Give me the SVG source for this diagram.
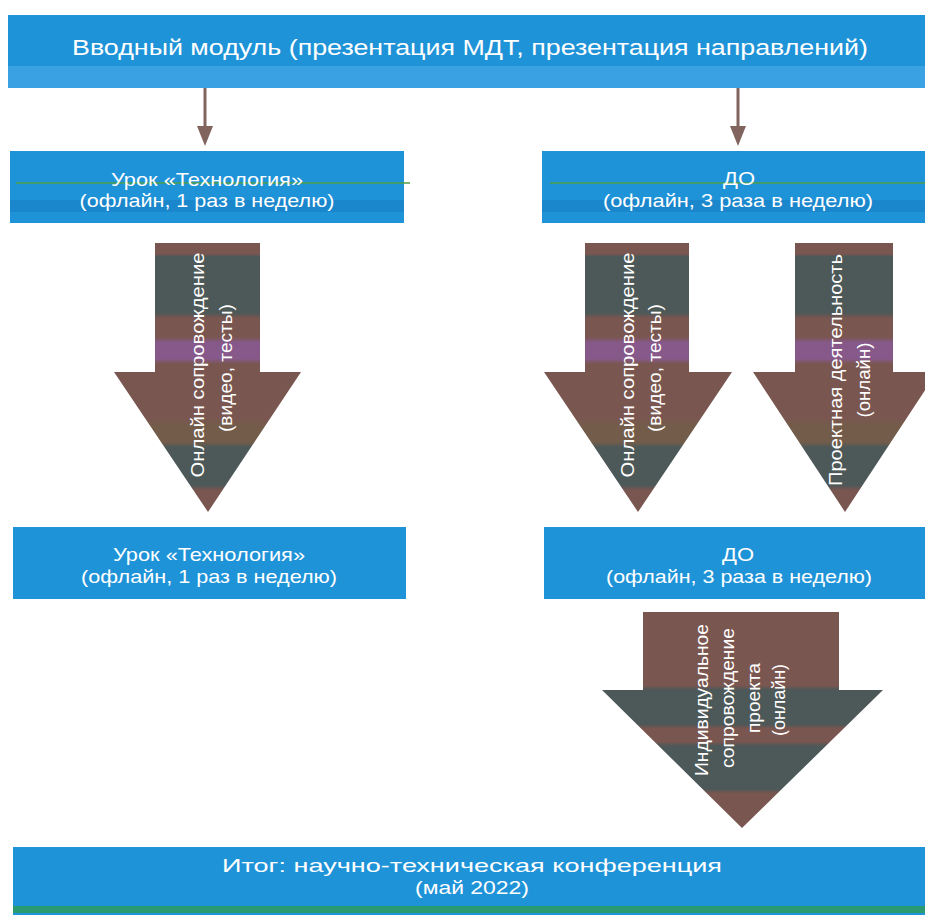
<svg xmlns="http://www.w3.org/2000/svg" width="925" height="915" viewBox="0 0 925 915">
<defs>
<style>
.box{fill:#1f93d8}
.band{fill:#1a86cc}
.lite{fill:#3aa2e2}
.t{font-family:"Liberation Sans",Arial,sans-serif;fill:#ffffff;text-anchor:middle}
.conn{stroke:#82645e;stroke-width:3;fill:none}
.ah{fill:#82645e}
.scan{stroke:#4c9f4a;stroke-width:1.5}
</style>
<linearGradient id="gUp" gradientUnits="userSpaceOnUse" x1="0" y1="243" x2="0" y2="512">
<stop offset="0" stop-color="#7a5650"/>
<stop offset="0.04" stop-color="#7a5650"/>
<stop offset="0.05" stop-color="#4d5858"/>
<stop offset="0.26" stop-color="#4d5858"/>
<stop offset="0.28" stop-color="#7a5650"/>
<stop offset="0.35" stop-color="#7a5650"/>
<stop offset="0.37" stop-color="#86598a"/>
<stop offset="0.43" stop-color="#86598a"/>
<stop offset="0.45" stop-color="#7a5650"/>
<stop offset="0.65" stop-color="#7a5650"/>
<stop offset="0.68" stop-color="#735c4a"/>
<stop offset="0.74" stop-color="#735c4a"/>
<stop offset="0.76" stop-color="#4d5858"/>
<stop offset="0.9" stop-color="#4d5858"/>
<stop offset="0.92" stop-color="#7a5650"/>
<stop offset="1" stop-color="#7a5650"/>
</linearGradient>
<linearGradient id="gLow" gradientUnits="userSpaceOnUse" x1="0" y1="612" x2="0" y2="828">
<stop offset="0" stop-color="#7a5650"/>
<stop offset="0.34" stop-color="#7a5650"/>
<stop offset="0.36" stop-color="#4d5858"/>
<stop offset="0.52" stop-color="#4d5858"/>
<stop offset="0.54" stop-color="#7a5650"/>
<stop offset="0.6" stop-color="#7a5650"/>
<stop offset="0.62" stop-color="#4d5858"/>
<stop offset="0.82" stop-color="#4d5858"/>
<stop offset="0.84" stop-color="#7a5650"/>
<stop offset="1" stop-color="#7a5650"/>
</linearGradient>
</defs>
<rect width="925" height="915" fill="#ffffff"/>

<g id="intro">
<rect class="box" x="8" y="15" width="917" height="73"/>
<rect class="lite" x="8" y="66" width="917" height="22"/>
<text class="t" x="470" y="55" font-size="22" textLength="796" lengthAdjust="spacingAndGlyphs">Вводный модуль (презентация МДТ, презентация направлений)</text>
</g>

<g id="connectors">
<line class="conn" x1="205" y1="88" x2="205" y2="128"/>
<polygon class="ah" points="197,126 213,126 205,146"/>
<line class="conn" x1="738" y1="88" x2="738" y2="128"/>
<polygon class="ah" points="730,126 746,126 738,146"/>
</g>

<g id="lesson1">
<rect class="box" x="10" y="151" width="394" height="72"/>
<rect class="band" x="10" y="200" width="394" height="12"/>
<line class="scan" x1="16" y1="183" x2="410" y2="183"/>
<text class="t" x="207" y="186" font-size="19" textLength="192" lengthAdjust="spacingAndGlyphs">Урок «Технология»</text>
<text class="t" x="207" y="207" font-size="19" textLength="255" lengthAdjust="spacingAndGlyphs">(офлайн, 1 раз в неделю)</text>
</g>

<g id="do1">
<rect class="box" x="542" y="151" width="383" height="72"/>
<rect class="band" x="542" y="200" width="383" height="12"/>
<line class="scan" x1="550" y1="183" x2="925" y2="183"/>
<text class="t" x="739" y="185" font-size="19" textLength="32" lengthAdjust="spacingAndGlyphs">ДО</text>
<text class="t" x="738" y="207" font-size="19" textLength="270" lengthAdjust="spacingAndGlyphs">(офлайн, 3 раза в неделю)</text>
</g>

<g id="arrowOnline1">
<polygon fill="url(#gUp)" points="155,243 260,243 260,372 301,372 208,512 114,372 155,372"/>
<g transform="translate(211,365) rotate(-90)">
<text class="t" x="0" y="-7" font-size="19" textLength="225" lengthAdjust="spacingAndGlyphs">Онлайн сопровождение</text>
<text class="t" x="-3" y="21" font-size="19" textLength="128" lengthAdjust="spacingAndGlyphs">(видео, тесты)</text>
</g>
</g>

<g id="arrowOnline2">
<polygon fill="url(#gUp)" points="585,243 689,243 689,372 732,372 638,512 544,372 585,372"/>
<g transform="translate(641,365) rotate(-90)">
<text class="t" x="0" y="-7" font-size="19" textLength="225" lengthAdjust="spacingAndGlyphs">Онлайн сопровождение</text>
<text class="t" x="-3" y="20" font-size="19" textLength="128" lengthAdjust="spacingAndGlyphs">(видео, тесты)</text>
</g>
</g>

<g id="arrowProject">
<polygon fill="url(#gUp)" points="795,243 893,243 893,372 937,372 845,512 753,372 795,372"/>
<g transform="translate(849,370) rotate(-90)">
<text class="t" x="0" y="-7" font-size="19" textLength="232" lengthAdjust="spacingAndGlyphs">Проектная деятельность</text>
<text class="t" x="-10" y="21" font-size="19" textLength="75" lengthAdjust="spacingAndGlyphs">(онлайн)</text>
</g>
</g>

<g id="lesson2">
<rect class="box" x="13" y="527" width="393" height="72"/>
<text class="t" x="209" y="561" font-size="19" textLength="192" lengthAdjust="spacingAndGlyphs">Урок «Технология»</text>
<text class="t" x="209" y="583" font-size="19" textLength="256" lengthAdjust="spacingAndGlyphs">(офлайн, 1 раз в неделю)</text>
</g>

<g id="do2">
<rect class="box" x="544" y="527" width="381" height="72"/>
<text class="t" x="738" y="561" font-size="19" textLength="32" lengthAdjust="spacingAndGlyphs">ДО</text>
<text class="t" x="739" y="583" font-size="19" textLength="266" lengthAdjust="spacingAndGlyphs">(офлайн, 3 раза в неделю)</text>
</g>

<g id="arrowIndividual">
<polygon fill="url(#gLow)" points="643,612 839,612 839,690 883,690 742,828 602,690 643,690"/>
<g transform="translate(740,700) rotate(-90)">
<text class="t" x="0" y="-32" font-size="19" textLength="152" lengthAdjust="spacingAndGlyphs">Индивидуальное</text>
<text class="t" x="2" y="-6" font-size="19" textLength="140" lengthAdjust="spacingAndGlyphs">сопровождение</text>
<text class="t" x="2" y="20" font-size="19" textLength="70" lengthAdjust="spacingAndGlyphs">проекта</text>
<text class="t" x="0" y="45" font-size="19" textLength="72" lengthAdjust="spacingAndGlyphs">(онлайн)</text>
</g>
</g>

<g id="result">
<rect class="box" x="13" y="847" width="912" height="68"/>
<rect fill="#2a9a70" x="13" y="906" width="912" height="7"/>
<text class="t" x="472" y="872" font-size="19" textLength="500" lengthAdjust="spacingAndGlyphs">Итог: научно-техническая конференция</text>
<text class="t" x="472" y="894" font-size="19" textLength="114" lengthAdjust="spacingAndGlyphs">(май 2022)</text>
</g>
</svg>
